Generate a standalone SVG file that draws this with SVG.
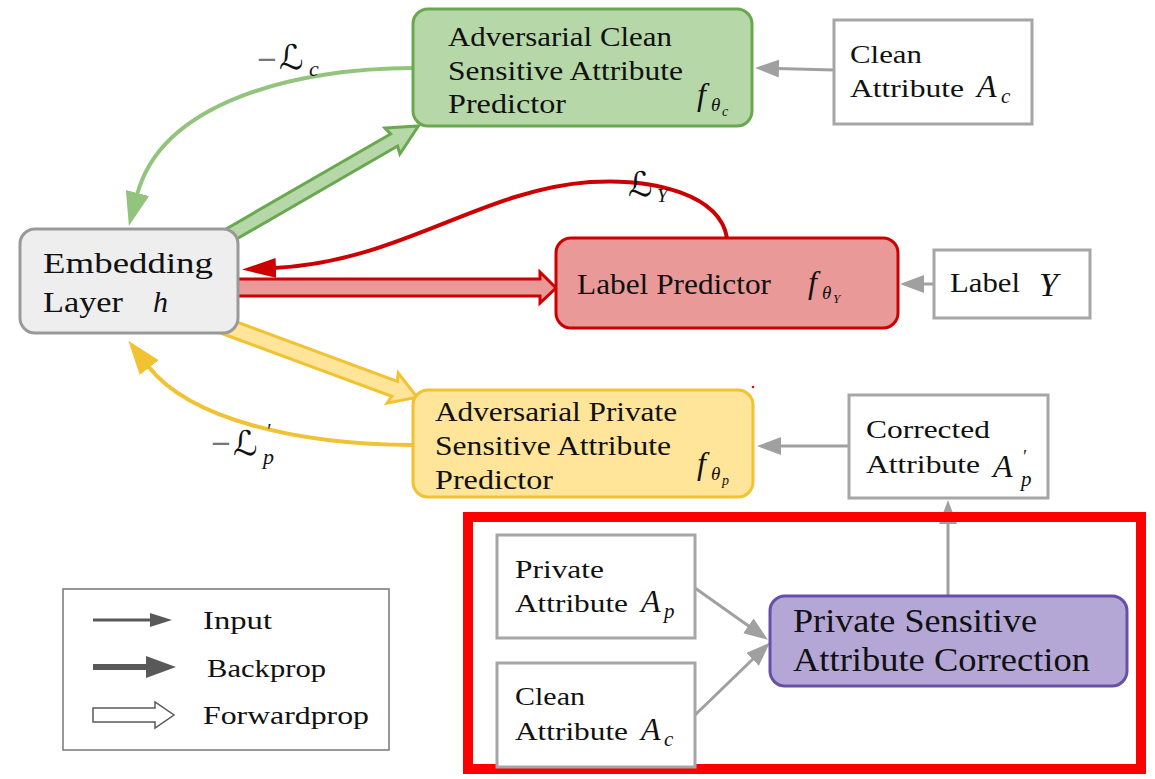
<svg xmlns="http://www.w3.org/2000/svg" width="1155" height="779" viewBox="0 0 1155 779" font-family="'Liberation Serif', 'Times New Roman', serif">
  <style>
    .t { font-family: 'Liberation Serif', 'Times New Roman', serif; fill: #111; }
    .m { font-family: 'Liberation Serif', 'Times New Roman', serif; font-style: italic; fill: #111; }
    .cal { font-family: 'DejaVu Sans', sans-serif; font-style: italic; fill: #111; }
    .minus { font-family: 'DejaVu Sans', sans-serif; fill: #777; }
    .box { fill: #ffffff; stroke: #a6a6a6; stroke-width: 3; }
    .input { fill: none; stroke: #a0a0a0; stroke-width: 3; marker-end: url(#inHead); }
  </style>
  <defs>
    <marker id="inHead" markerUnits="userSpaceOnUse" markerWidth="26" markerHeight="20" refX="2" refY="9" orient="auto" viewBox="0 0 26 18">
      <path d="M0,0 L24,9 L0,18 Z" fill="#a0a0a0"/>
    </marker>
    <marker id="greenHead" markerUnits="userSpaceOnUse" markerWidth="36" markerHeight="26" refX="2" refY="12" orient="auto" viewBox="0 0 36 24">
      <path d="M0,0 L34,12 L0,24 Z" fill="#93c47d"/>
    </marker>
    <marker id="redHead" markerUnits="userSpaceOnUse" markerWidth="36" markerHeight="22" refX="2" refY="10" orient="auto" viewBox="0 0 36 20">
      <path d="M0,0 L34,10 L0,20 Z" fill="#cc0000"/>
    </marker>
    <marker id="yellowHead" markerUnits="userSpaceOnUse" markerWidth="36" markerHeight="26" refX="2" refY="12" orient="auto" viewBox="0 0 36 24">
      <path d="M0,0 L34,12 L0,24 Z" fill="#f1c232"/>
    </marker>
  </defs>

  <rect width="1155" height="779" fill="#ffffff"/>

  <!-- connectors -->
  <g id="connectors">
    <!-- forward passes (block arrows) -->
    <g transform="translate(214,244) rotate(-30)">
      <polygon points="0,-7 208,-7 206,-15 236,0 206,15 208,7 0,7" fill="#b6d7a8" stroke="#6aa84f" stroke-width="3"/>
    </g>
    <polygon points="230,279 540,279 540,272 556,288 540,303 540,296 230,296" fill="#ea9999" stroke="#cc0000" stroke-width="3"/>
    <g transform="translate(222,325) rotate(20.3)">
      <polygon points="0,-8 184,-8 182,-16 208,0 182,16 184,8 0,8" fill="#ffe599" stroke="#f1c232" stroke-width="3"/>
    </g>

    <!-- backprop curves -->
    <path d="M413,68 C300,68 162,100 137,195" fill="none" stroke="#93c47d" stroke-width="4" marker-end="url(#greenHead)"/>
    <path d="M727,238 C720,195 655,178 590,182 C480,190 400,262 274,268" fill="none" stroke="#cc0000" stroke-width="4" marker-end="url(#redHead)"/>
    <path d="M413,445 C300,445 190,420 148,366" fill="none" stroke="#f1c232" stroke-width="4" marker-end="url(#yellowHead)"/>

    <!-- inputs -->
    <path class="input" d="M834,70 L777,68.5"/>
    <path class="input" d="M934,284 L922,284"/>
    <path class="input" d="M849,446 L779,446"/>
    <path class="input" d="M695,588 L750,627"/>
    <path class="input" d="M695,715 L754,658"/>
    <path class="input" d="M948,595 L948,522"/>
  </g>

  <!-- loss labels -->
  <g id="loss-labels">
    <text class="minus" x="256" y="68" font-size="26">−</text>
    <text class="cal" x="279" y="69" font-size="34">ℒ</text>
    <text class="m" x="309" y="76" font-size="22">c</text>

    <text class="cal" x="628" y="196" font-size="34">ℒ</text>
    <text class="m" x="657" y="202" font-size="19">Y</text>

    <text class="minus" x="210" y="452" font-size="26">−</text>
    <text class="cal" x="233" y="455" font-size="34">ℒ</text>
    <text class="m" x="266" y="438" font-size="20">′</text>
    <text class="m" x="263" y="464" font-size="22">p</text>
  </g>

  <!-- adversarial clean predictor -->
  <g id="clean-predictor">
    <rect x="413" y="9" width="339" height="117" rx="15" fill="#b6d7a8" stroke="#6aa84f" stroke-width="3"/>
    <text class="t" x="448" y="46" font-size="27" textLength="224" lengthAdjust="spacingAndGlyphs">Adversarial Clean</text>
    <text class="t" x="448" y="80" font-size="27" textLength="235" lengthAdjust="spacingAndGlyphs">Sensitive Attribute</text>
    <text class="t" x="448" y="113" font-size="27" textLength="118" lengthAdjust="spacingAndGlyphs">Predictor</text>
    <text class="m" x="697" y="105" font-size="32">f</text>
    <text class="m" x="711" y="111" font-size="19">θ</text>
    <text class="m" x="722" y="116" font-size="14">c</text>
  </g>

  <!-- clean attribute (top) -->
  <g id="clean-attribute-top">
    <rect class="box" x="834" y="20" width="198" height="104"/>
    <text class="t" x="850" y="63" font-size="26" textLength="72" lengthAdjust="spacingAndGlyphs">Clean</text>
    <text class="t" x="850" y="97" font-size="26" textLength="114" lengthAdjust="spacingAndGlyphs">Attribute</text>
    <text class="m" x="977" y="97" font-size="32">A</text>
    <text class="m" x="1001" y="103" font-size="21">c</text>
  </g>

  <!-- embedding layer -->
  <g id="embedding">
    <rect x="20" y="229" width="218" height="104" rx="15" fill="#eeeeee" stroke="#999999" stroke-width="3"/>
    <text class="t" x="43" y="273" font-size="30" textLength="170" lengthAdjust="spacingAndGlyphs">Embedding</text>
    <text class="t" x="43" y="312" font-size="30" textLength="80" lengthAdjust="spacingAndGlyphs">Layer</text>
    <text class="m" x="153" y="312" font-size="30">h</text>
  </g>

  <!-- label predictor -->
  <g id="label-predictor">
    <rect x="556" y="238" width="342" height="90" rx="15" fill="#ea9999" stroke="#cc0000" stroke-width="3"/>
    <text class="t" x="577" y="294" font-size="29" textLength="194" lengthAdjust="spacingAndGlyphs">Label Predictor</text>
    <text class="m" x="808" y="293" font-size="32">f</text>
    <text class="m" x="822" y="299" font-size="19">θ</text>
    <text class="m" x="833" y="303" font-size="13">Y</text>
  </g>

  <!-- label -->
  <g id="label">
    <rect class="box" x="934" y="250" width="156" height="68"/>
    <text class="t" x="950" y="292" font-size="27" textLength="70" lengthAdjust="spacingAndGlyphs">Label</text>
    <text class="m" x="1039" y="296" font-size="34">Y</text>
  </g>

  <!-- adversarial private predictor -->
  <g id="private-predictor">
    <rect x="413" y="390" width="340" height="107" rx="15" fill="#ffe599" stroke="#f1c232" stroke-width="3"/>
    <text class="t" x="435" y="421" font-size="27" textLength="242" lengthAdjust="spacingAndGlyphs">Adversarial Private</text>
    <text class="t" x="435" y="455" font-size="27" textLength="236" lengthAdjust="spacingAndGlyphs">Sensitive Attribute</text>
    <text class="t" x="435" y="489" font-size="27" textLength="118" lengthAdjust="spacingAndGlyphs">Predictor</text>
    <text class="m" x="697" y="474" font-size="32">f</text>
    <text class="m" x="711" y="480" font-size="19">θ</text>
    <text class="m" x="722" y="485" font-size="14">p</text>
  </g>
  <circle cx="753" cy="387" r="1.3" fill="#ff0000"/>

  <!-- corrected attribute -->
  <g id="corrected-attribute">
    <rect class="box" x="849" y="395" width="199" height="103"/>
    <text class="t" x="866" y="438" font-size="26" textLength="124" lengthAdjust="spacingAndGlyphs">Corrected</text>
    <text class="t" x="866" y="473" font-size="26" textLength="114" lengthAdjust="spacingAndGlyphs">Attribute</text>
    <text class="m" x="993" y="477" font-size="32">A</text>
    <text class="m" x="1022" y="463" font-size="18">′</text>
    <text class="m" x="1021" y="486" font-size="21">p</text>
  </g>

  <!-- correction module frame -->
  <rect x="468" y="517" width="673" height="252" fill="none" stroke="#ff0000" stroke-width="10"/>

  <!-- private attribute -->
  <g id="private-attribute">
    <rect class="box" x="497" y="535" width="198" height="103"/>
    <text class="t" x="515" y="578" font-size="26" textLength="89" lengthAdjust="spacingAndGlyphs">Private</text>
    <text class="t" x="515" y="612" font-size="26" textLength="113" lengthAdjust="spacingAndGlyphs">Attribute</text>
    <text class="m" x="641" y="612" font-size="32">A</text>
    <text class="m" x="664" y="618" font-size="21">p</text>
  </g>

  <!-- clean attribute (bottom) -->
  <g id="clean-attribute-bottom">
    <rect class="box" x="497" y="663" width="198" height="104"/>
    <text class="t" x="515" y="705" font-size="26" textLength="70" lengthAdjust="spacingAndGlyphs">Clean</text>
    <text class="t" x="515" y="740" font-size="26" textLength="113" lengthAdjust="spacingAndGlyphs">Attribute</text>
    <text class="m" x="641" y="740" font-size="32">A</text>
    <text class="m" x="664" y="746" font-size="21">c</text>
  </g>

  <!-- private sensitive attribute correction -->
  <g id="correction">
    <rect x="770" y="596" width="357" height="90" rx="15" fill="#b4a7d6" stroke="#674ea7" stroke-width="3"/>
    <text class="t" x="793" y="632" font-size="33" textLength="244" lengthAdjust="spacingAndGlyphs">Private Sensitive</text>
    <text class="t" x="793" y="671" font-size="33" textLength="297" lengthAdjust="spacingAndGlyphs">Attribute Correction</text>
  </g>

  <!-- legend -->
  <g id="legend">
    <rect x="63" y="589" width="326" height="161" fill="#ffffff" stroke="#777777" stroke-width="1.5"/>
    <line x1="93" y1="620" x2="152" y2="620" stroke="#595959" stroke-width="3"/>
    <polygon points="150,613 172,620 150,627" fill="#595959"/>
    <text class="t" x="203" y="629" font-size="26" textLength="69" lengthAdjust="spacingAndGlyphs">Input</text>
    <line x1="93" y1="667" x2="148" y2="667" stroke="#595959" stroke-width="6"/>
    <polygon points="146,656 176,667 146,678" fill="#595959"/>
    <text class="t" x="207" y="677" font-size="26" textLength="119" lengthAdjust="spacingAndGlyphs">Backprop</text>
    <polygon points="93,708 155,708 155,702 174,715 155,728 155,722 93,722" fill="#ffffff" stroke="#595959" stroke-width="1.5"/>
    <text class="t" x="203" y="724" font-size="26" textLength="166" lengthAdjust="spacingAndGlyphs">Forwardprop</text>
  </g>
</svg>
